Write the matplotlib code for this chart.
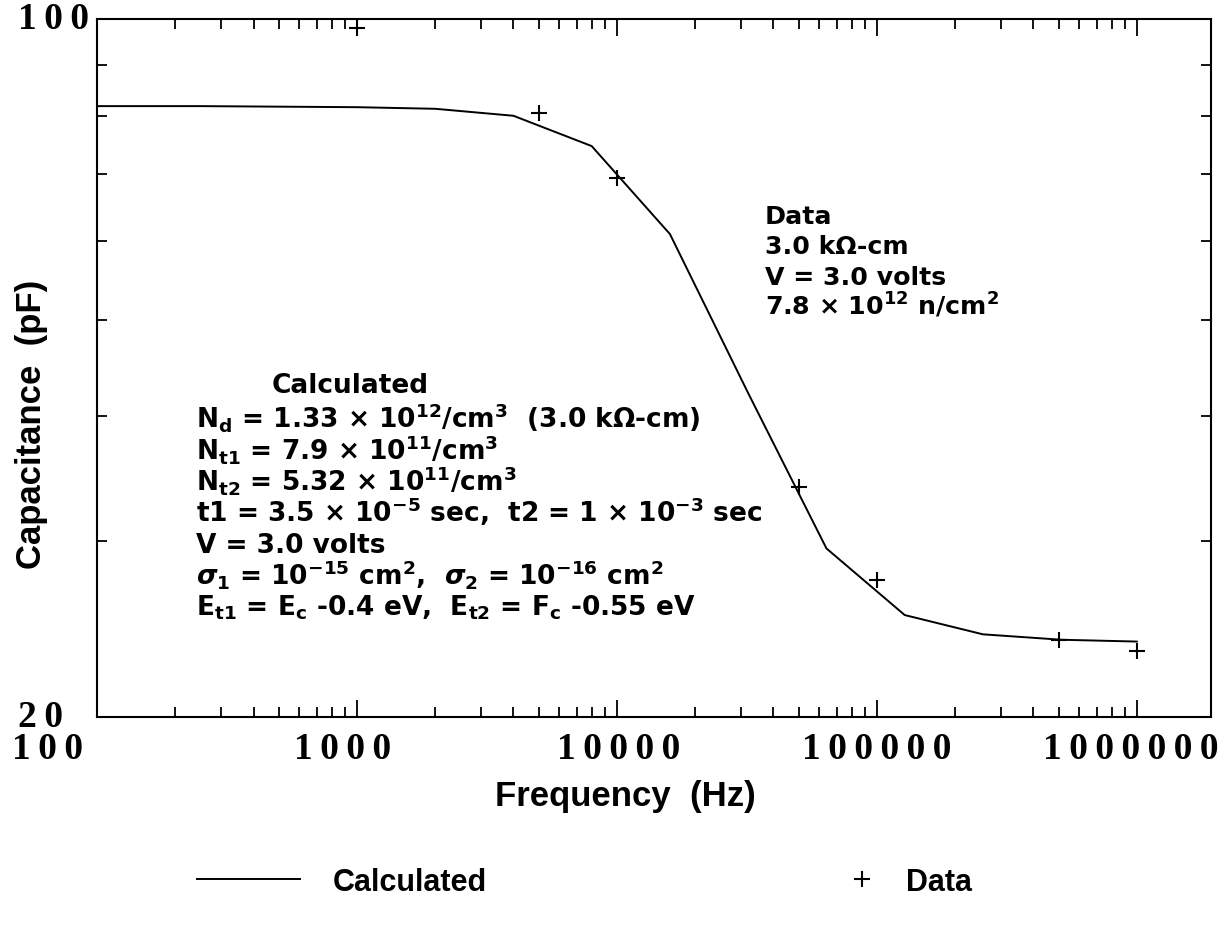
import matplotlib
matplotlib.use("Agg")
import matplotlib.pyplot as plt
from matplotlib.ticker import NullFormatter, FixedLocator
from matplotlib.lines import Line2D

# ---- data -------------------------------------------------------------
calc_freq = [100, 250, 500, 1000, 2000, 4000, 8000, 16000, 32000, 64000,
             128000, 256000, 512000, 1000000]
calc_cap = [81.8, 81.8, 81.7, 81.6, 81.3, 80.0, 74.6, 60.9, 42.2, 29.5,
            25.3, 24.2, 23.9, 23.8]

data_freq = [1000, 5000, 10000, 50000, 100000, 500000, 1000000]
data_cap = [97.9, 80.6, 69.3, 34.0, 27.4, 23.9, 23.3]

x_tick_values = [100, 1000, 10000, 100000, 1000000]
x_tick_labels = ["100", "1000", "10000", "100000", "1000000"]
y_tick_values = [20, 100]
y_tick_labels = ["20", "100"]

calc_title = "Calculated"
calc_lines = [
    r"N$_{d}$ = 1.33 × 10$^{12}$/cm$^{3}$  (3.0 kΩ-cm)",
    r"N$_{t1}$ = 7.9 × 10$^{11}$/cm$^{3}$",
    r"N$_{t2}$ = 5.32 × 10$^{11}$/cm$^{3}$",
    r"t1 = 3.5 × 10$^{-5}$ sec,  t2 = 1 × 10$^{-3}$ sec",
    r"V = 3.0 volts",
    r"$\mathit{σ}_{1}$ = 10$^{-15}$ cm$^{2}$,  $\mathit{σ}_{2}$ = 10$^{-16}$ cm$^{2}$",
    r"E$_{t1}$ = E$_{c}$ -0.4 eV,  E$_{t2}$ = F$_{c}$ -0.55 eV",
]
data_lines = [
    "Data",
    "3.0 kΩ-cm",
    "V = 3.0 volts",
    r"7.8 × 10$^{12}$ n/cm$^{2}$",
]
legend_labels = ["Calculated", "Data"]

# ---- style ------------------------------------------------------------
plt.rcParams["font.family"] = ["Liberation Sans", "DejaVu Sans"]
plt.rcParams["font.weight"] = "bold"
plt.rcParams["mathtext.fontset"] = "custom"
plt.rcParams["mathtext.rm"] = "DejaVu Sans:bold"
plt.rcParams["mathtext.it"] = "DejaVu Sans:italic:bold"
plt.rcParams["mathtext.bf"] = "DejaVu Sans:bold"
plt.rcParams["mathtext.default"] = "regular"

W, H = 1230, 937
fig = plt.figure(figsize=(W / 100, H / 100), dpi=100)

L, R, T, B = 97, 1211, 20, 718
ax = fig.add_axes([L / W, 1 - B / H, (R - L) / W, (B - T) / H])


def fx(px):
    return px / W


def fy(py):
    return 1 - py / H


ax.set_xscale("log")
ax.set_yscale("log")
ax.set_xlim(100, 1.93e6)
ax.set_ylim(20, 100)

ax.plot(calc_freq, calc_cap, color="black", lw=1.4, solid_joinstyle="miter")
ax.plot(data_freq, data_cap, linestyle="none", marker="+", color="black",
        markersize=12, markeredgewidth=1.5)

for s in ax.spines.values():
    s.set_linewidth(1.5)

# ticks on all four sides, pointing inwards
ax.tick_params(which="both", direction="in", top=True, right=True,
               labelbottom=False, labelleft=False, width=1.3)
ax.tick_params(which="major", length=12)
ax.tick_params(which="minor", length=7)
ax.yaxis.set_major_locator(FixedLocator([]))
ax.yaxis.set_minor_locator(FixedLocator([30, 40, 50, 60, 70, 80, 90]))
ax.yaxis.set_minor_formatter(NullFormatter())
ax.xaxis.set_minor_formatter(NullFormatter())

# tick labels in a bold serif face, loosely spaced digits
tick_font = dict(family=["Liberation Serif", "DejaVu Serif"], weight="bold",
                 fontsize=27)
x_label_shift = [-50, -14, 2, 0, -6]
for v, lab, dx in zip(x_tick_values, x_tick_labels, x_label_shift):
    ax.annotate("\u2009".join(lab), xy=(v, 0),
                xycoords=("data", "axes fraction"),
                xytext=(dx, -32), textcoords="offset pixels",
                ha="center", va="center", **tick_font)
for v, lab in zip(y_tick_values, y_tick_labels):
    ax.annotate("\u2009".join(lab), xy=(0, v),
                xycoords=("figure pixels", "data"),
                xytext=(18, 0), textcoords="offset pixels",
                ha="left", va="center", **tick_font)

# axis titles
fig.text(fx(32), fy(424), "Capacitance  (pF)", rotation=90, ha="center",
         va="center", fontsize=25)
fig.text(fx(625), fy(797), "Frequency  (Hz)", ha="center", va="center",
         fontsize=25)

# parameter blocks
calc_font = dict(family=["DejaVu Sans"], weight="bold", fontsize=19)
data_font = dict(family=["DejaVu Sans"], weight="bold", fontsize=18.2)
fig.text(fx(350), fy(393), calc_title, ha="center", va="baseline", **calc_font)
for i, line in enumerate(calc_lines):
    fig.text(fx(196), fy(428 + 31.3 * i), line, ha="left", va="baseline",
             **calc_font)
for i, line in enumerate(data_lines):
    fig.text(fx(765), fy(224 + 30.5 * i), line, ha="left", va="baseline",
             **data_font)

# legend: two separate entries spread along the bottom
line_handle = Line2D([], [], color="black", lw=1.4)
mark_handle = Line2D([], [], color="black", ls="none", marker="+",
                     markersize=12, markeredgewidth=1.5)
common = dict(frameon=False, loc="center left", fontsize=22, borderpad=0,
              borderaxespad=0)
fig.legend([line_handle], legend_labels[:1], bbox_to_anchor=(fx(197), fy(883)),
           handlelength=3.37, handletextpad=1.08, **common)
fig.legend([mark_handle], legend_labels[1:], bbox_to_anchor=(fx(847), fy(883)),
           handlelength=1.0, handletextpad=0.92, **common)

fig.savefig("out.png", dpi=100)
